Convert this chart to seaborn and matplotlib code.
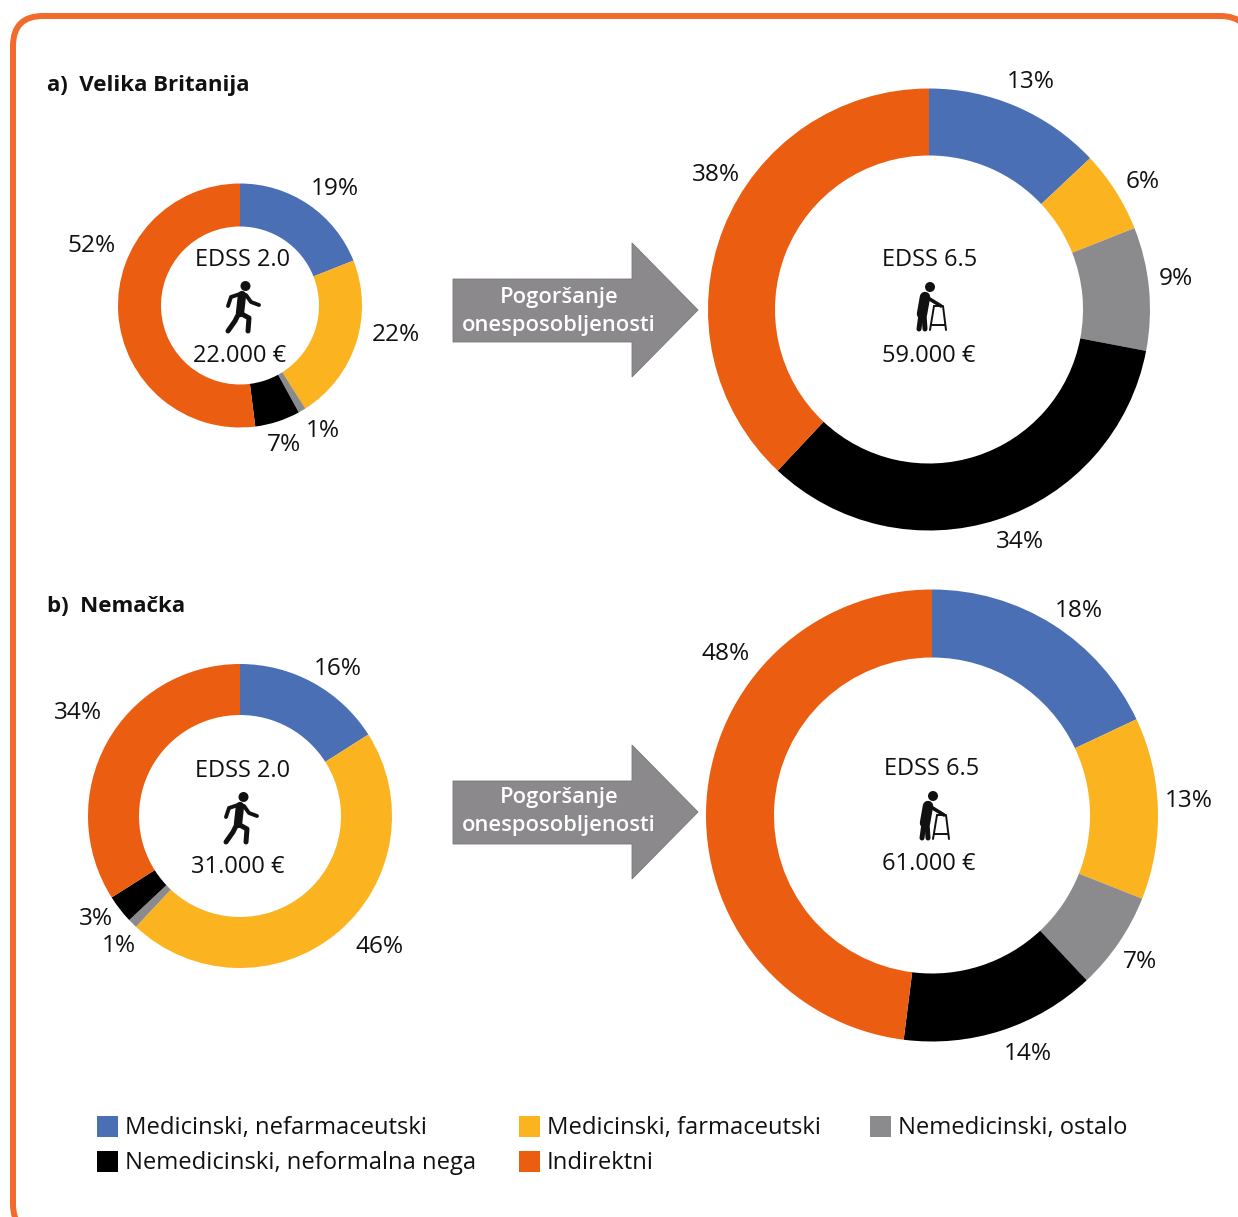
import seaborn as sns
import matplotlib.pyplot as plt
from matplotlib.patches import Circle, FancyBboxPatch, Polygon, Rectangle

categories = ['Medicinski, nefarmaceutski', 'Medicinski, farmaceutski', 'Nemedicinski, ostalo',
              'Nemedicinski, neformalna nega', 'Indirektni']

uk_mild = [19, 22, 1, 6, 52]
uk_mild_labels = [19, 22, 1, 7, 52]
uk_severe = [13, 6, 9, 34, 38]
de_mild = [16, 46, 1, 3, 34]
de_severe = [18, 13, 7, 14, 48]

sns.set_theme(style='white')
plt.rcParams['font.family'] = ['Open Sans', 'DejaVu Sans']

colors = sns.color_palette(['#4a6fb5', '#fbb320', '#8b8a8c', '#000000', '#eb5e11'])
H = 1217
TEXT = '#111111'


def py(y):
    # picture rows run downward, the axes run upward
    return H - y


def label(ax, x, y, s, **kw):
    # va center sits about 2 px high for this font
    ax.text(x, py(y + 2), s, color=kw.pop('color', TEXT), **kw)


def donut(ax, values, labels, cx, cy, outer, inner, label_pos):
    ax.pie(values, colors=colors, center=(cx, py(cy)), radius=outer, startangle=90,
           counterclock=False, frame=True, wedgeprops={'width': outer - inner, 'linewidth': 0})
    for v, (x, y) in zip(labels, label_pos):
        label(ax, x, y, f'{v}%', ha='center', va='center', fontsize=17.6)


def arrow(ax, top, text_top):
    pts = [(453, top + 36), (632, top + 36), (632, top), (698, top + 67), (632, top + 134),
           (632, top + 99), (453, top + 99)]
    ax.add_patch(Polygon([(x, py(y)) for x, y in pts], facecolor='#8b898b', edgecolor='#77767a', lw=0.6))
    label(ax, 559, text_top, 'Pogoršanje', ha='center', va='center', fontsize=15.8,
          color='white', fontweight='semibold')
    label(ax, 559, text_top + 29, 'onesposobljenosti', ha='center', va='center', fontsize=15.8,
          color='white', fontweight='semibold')


def line(ax, pts, lw):
    xs = [p[0] for p in pts]
    ys = [py(p[1]) for p in pts]
    ax.plot(xs, ys, color='#111111', lw=lw, solid_capstyle='round', solid_joinstyle='round')


def walker(ax, dx, dy):
    def sh(pts):
        return [(x + dx, y + dy) for x, y in pts]
    ax.add_patch(Circle((245.5 + dx, py(286 + dy)), 5, color='#111111', lw=0))
    line(ax, sh([(242, 295), (240, 313)]), 6)
    line(ax, sh([(240, 294), (231, 297), (228, 306)]), 2.8)
    line(ax, sh([(246, 295), (251, 302), (259, 305)]), 2.8)
    line(ax, sh([(240, 313), (249, 318), (248, 331)]), 3.6)
    line(ax, sh([(239, 313), (235, 321), (228, 331)]), 3.6)


def frame_walker(ax, dx, dy):
    def sh(pts):
        return [(x + dx, y + dy) for x, y in pts]
    ax.add_patch(Circle((930 + dx, py(287 + dy)), 5, color='#111111', lw=0))
    line(ax, sh([(925, 297), (922, 314)]), 7.5)
    line(ax, sh([(921, 314), (919, 329)]), 3.6)
    line(ax, sh([(924, 314), (925, 329)]), 3.6)
    line(ax, sh([(928, 298), (941, 306)]), 2.6)
    line(ax, sh([(934, 306), (943, 306), (946, 330)]), 1.4)
    line(ax, sh([(934, 306), (930, 330)]), 1.4)
    line(ax, sh([(931, 325), (945, 325)]), 1.4)


fig = plt.figure(figsize=(12.38, 12.17), dpi=100)
ax = fig.add_axes([0, 0, 1, 1])

ax.add_patch(FancyBboxPatch((13, py(1234)), 1237, 1218, boxstyle='round,pad=0,rounding_size=30',
                            facecolor='white', edgecolor='#f26b2a', lw=4.3, clip_on=True))

label(ax, 47, 83, 'a)  Velika Britanija', fontsize=16, fontweight='bold', va='center')
label(ax, 47, 605, 'b)  Nemačka', fontsize=16, fontweight='bold', va='center')

donut(ax, uk_mild, uk_mild_labels, 240, 305.5, 122, 79,
      [(335, 187), (396, 333), (323, 429), (284, 443), (92, 244)])
donut(ax, uk_severe, uk_severe, 929, 309.5, 221, 154,
      [(1031, 80), (1143, 180), (1176, 277), (1020, 540), (716, 173)])
donut(ax, de_mild, de_mild, 240, 816, 152, 101,
      [(338, 667), (380, 945), (119, 944), (96, 917), (78, 711)])
donut(ax, de_severe, de_severe, 932, 815.5, 226, 158,
      [(1079, 609), (1189, 799), (1140, 960), (1028, 1052), (726, 652)])

for x, y, s in [(243, 258, 'EDSS 2.0'), (240, 354, '22.000 €'), (243, 769, 'EDSS 2.0'),
                (238, 865, '31.000 €'), (930, 258, 'EDSS 6.5'), (929, 354, '59.000 €'),
                (932, 767, 'EDSS 6.5'), (929, 862, '61.000 €')]:
    label(ax, x, y, s, ha='center', va='center', fontsize=17)

walker(ax, 0, 0)
walker(ax, -2, 511)
frame_walker(ax, 0, 0)
frame_walker(ax, 3, 509)

arrow(ax, 243, 295)
arrow(ax, 745, 795)

legend_pos = [(97, 1126), (519, 1126), (870, 1126), (97, 1161), (519, 1161)]
for name, c, (x, y) in zip(categories, colors, legend_pos):
    ax.add_patch(Rectangle((x, py(y + 10.5)), 21, 21, facecolor=c, edgecolor='none'))
    label(ax, x + 28, y, name, va='center', fontsize=17.1)

ax.set_xlim(0, 1238)
ax.set_ylim(0, H)
ax.set_aspect('auto')
ax.axis('off')

fig.savefig('out.png', dpi=100, facecolor='white')
